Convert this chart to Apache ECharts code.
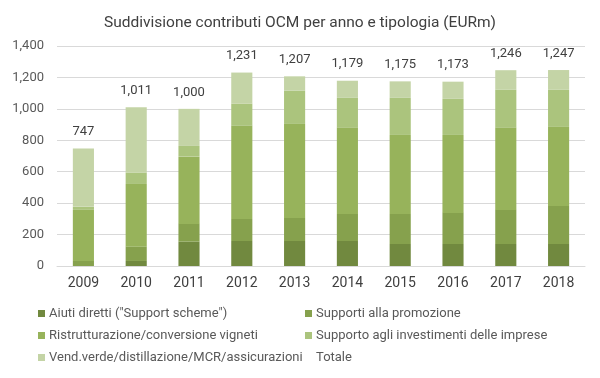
<!DOCTYPE html>
<html><head><meta charset="utf-8">
<script src="https://cdn.jsdelivr.net/npm/echarts@6/dist/echarts.min.js"></script>
<style>html,body{margin:0;padding:0;background:#fff}#c{width:600px;height:378px}</style>
</head><body><div id="c"></div>
<script>
var years = ['2009','2010','2011','2012','2013','2014','2015','2016','2017','2018'];
var aiutiDiretti = [0, 32, 155, 159, 159, 159, 140, 140, 140, 140];
var promozione = [32, 91, 113, 140, 147, 172, 191, 198, 217, 242];
var ristrutturazione = [325, 399, 428, 593, 598, 548, 503, 496, 522, 503];
var investimenti = [21, 72, 68, 142, 211, 191, 236, 230, 242, 236];
var vendVerde = [369, 417, 236, 197, 92, 109, 105, 109, 125, 126];
var totale = [747, 1011, 1000, 1231, 1207, 1179, 1175, 1173, 1246, 1247];
var yTicks = [0, 200, 400, 600, 800, 1000, 1200, 1400];

var names = ['Aiuti diretti ("Support scheme")','Supporti alla promozione','Ristrutturazione/conversione vigneti','Supporto agli investimenti delle imprese','Vend.verde/distillazione/MCR/assicurazioni','Totale'];
var colors = ['#71893f','#86a14d','#97b35b','#abc47d','#c4d4a6'];
var stacks = [aiutiDiretti, promozione, ristrutturazione, investimenti, vendVerde];
var font = 'Roboto';
function fmt(v){return v.toLocaleString('en-US');}

var series = stacks.map(function(d,i){
  var s = {name:names[i], type:'bar', stack:'tot', data:d, barWidth:'40%',
    itemStyle:{color:colors[i]}, emphasis:{disabled:true}};
  if (i === stacks.length-1) {
    s.label = {show:true, position:'top', distance:10,
      formatter:function(p){return fmt(totale[p.dataIndex]);},
      color:'#404040', fontSize:13, fontFamily:font};
  }
  return s;
});
series.push({name:names[5], type:'line', data:totale, symbol:'none', silent:true,
  lineStyle:{opacity:0}, itemStyle:{color:'rgba(0,0,0,0)'}});

var legPos = [[38,307],[305,307],[38,329],[305,329],[38,351],[305,351]];
var legends = names.map(function(n,i){
  return {data:[{name:n, icon: i<5 ? 'rect' : 'none'}], left:legPos[i][0], top:legPos[i][1],
    itemWidth:7, itemHeight:7, itemGap:4, padding:0,
    textStyle:{color:'#595959', fontSize:13, fontFamily:font, padding:[0,0,0,-1]},
    selectedMode:false};
});

var chart = echarts.init(document.getElementById('c'));
chart.setOption({
  animation:false,
  title:{text:'Suddivisione contributi OCM per anno e tipologia (EURm)', left:'center', top:10,
    textStyle:{color:'#404040', fontSize:15.5, fontWeight:'normal', fontFamily:font}},
  legend:legends,
  grid:{left:57, right:15, top:46, bottom:112, containLabel:false},
  xAxis:{type:'category', data:years,
    axisLine:{lineStyle:{color:'#d9d9d9', width:1}}, axisTick:{show:false},
    axisLabel:{color:'#404040', fontSize:14, fontFamily:font, margin:10}},
  yAxis:{type:'value', min:yTicks[0], max:yTicks[yTicks.length-1], interval:200,
    axisLine:{show:false}, axisTick:{show:false},
    splitLine:{lineStyle:{color:'#d9d9d9', width:1}},
    axisLabel:{color:'#595959', fontSize:13, fontFamily:font, margin:13, formatter:function(v){return fmt(v);}}},
  series:series
});
</script></body></html>
